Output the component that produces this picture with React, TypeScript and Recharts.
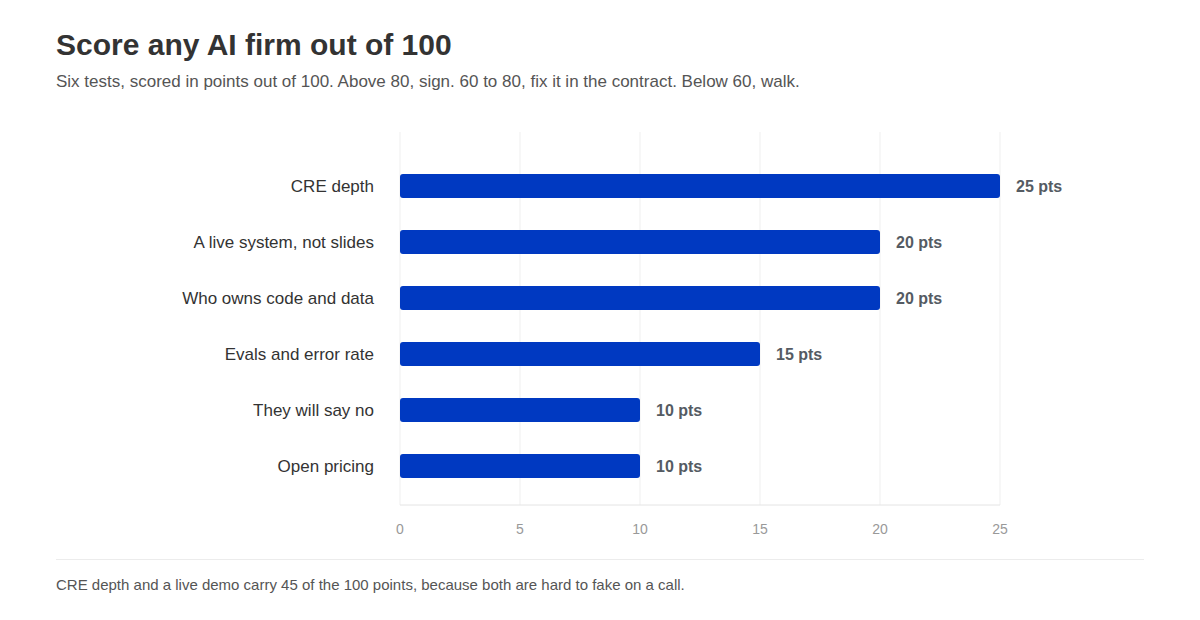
import React from "react";
import { BarChart, Bar, XAxis, YAxis, CartesianGrid, LabelList } from "recharts";

const categories = [
  "CRE depth",
  "A live system, not slides",
  "Who owns code and data",
  "Evals and error rate",
  "They will say no",
  "Open pricing",
];
const points = [25, 20, 20, 15, 10, 10];
const xTicks = [0, 5, 10, 15, 20, 25];

const data = categories.map((name, i) => ({ name, value: points[i] }));

const font = "'Liberation Sans', Arial, Helvetica, sans-serif";

export default function App() {
  return (
    <div
      style={{
        position: "absolute",
        left: 0,
        top: 0,
        width: 1200,
        height: 620,
        background: "#fff",
        fontFamily: font,
        overflow: "hidden",
      }}
    >
      <div
        style={{
          position: "absolute",
          left: 56,
          top: 27,
          fontSize: 30,
          fontWeight: 700,
          color: "#333",
          lineHeight: "36px",
          whiteSpace: "nowrap",
        }}
      >
        Score any AI firm out of 100
      </div>
      <div
        style={{
          position: "absolute",
          left: 56,
          top: 72,
          fontSize: 17,
          color: "#555",
          lineHeight: "20px",
          whiteSpace: "nowrap",
        }}
      >
        Six tests, scored in points out of 100. Above 80, sign. 60 to 80, fix it in the contract. Below 60, walk.
      </div>
      <div style={{ position: "absolute", left: 0, top: 0 }}>
        <BarChart
          width={1200}
          height={540}
          data={data}
          layout="vertical"
          margin={{ top: 132, right: 200, bottom: 5, left: 0 }}
        >
          <CartesianGrid horizontal={false} vertical={true} stroke="#efefef" />
          <XAxis
            type="number"
            domain={[0, 25]}
            ticks={xTicks}
            height={30}
            axisLine={{ stroke: "#e4e4e4" }}
            tickLine={false}
            tickMargin={13}
            tick={{ fill: "#999", fontSize: 14, fontFamily: font }}
          />
          <YAxis
            type="category"
            dataKey="name"
            width={400}
            axisLine={false}
            tickLine={false}
            tickMargin={20}
            padding={{ top: 26, bottom: 11 }}
            tick={{ fill: "#333", fontSize: 17, fontFamily: font }}
          />
          <Bar dataKey="value" fill="#0039C1" barSize={24} radius={3} isAnimationActive={false}>
            <LabelList
              dataKey="value"
              position="right"
              offset={16}
              formatter={(v: number) => `${v} pts`}
              style={{ fill: "#555b63", fontSize: 16, fontWeight: 700, fontFamily: font }}
            />
          </Bar>
        </BarChart>
      </div>
      <div
        style={{
          position: "absolute",
          left: 56,
          top: 559,
          width: 1088,
          height: 1,
          background: "#ececec",
        }}
      />
      <div
        style={{
          position: "absolute",
          left: 56,
          top: 576,
          fontSize: 15,
          color: "#555",
          lineHeight: "18px",
          whiteSpace: "nowrap",
        }}
      >
        CRE depth and a live demo carry 45 of the 100 points, because both are hard to fake on a call.
      </div>
    </div>
  );
}
